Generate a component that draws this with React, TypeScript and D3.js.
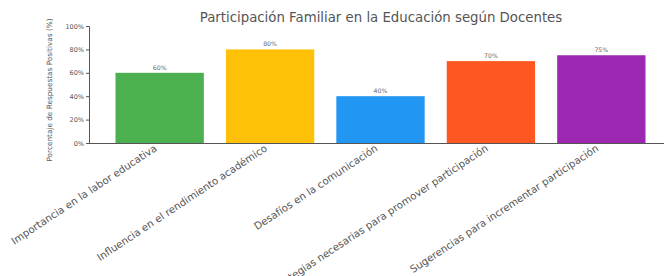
import * as d3 from "d3";
import React, { useEffect, useRef } from "react";

const categories = [
  "Importancia en la labor educativa",
  "Influencia en el rendimiento académico",
  "Desafíos en la comunicación",
  "Estrategias necesarias para promover participación",
  "Sugerencias para incrementar participación",
];
const values = [60, 80, 40, 70, 75];
const barLabels = ["60%", "80%", "40%", "70%", "75%"];
const colors = ["#4CAF50", "#FFC107", "#2196F3", "#FF5722", "#9C27B0"];
const yTicks = [0, 20, 40, 60, 80, 100];

function App() {
  const width = 664;
  const height = 276;
  const marginLeft = 89;
  const marginTop = 26;
  const plotBottom = 143;
  const ref = useRef<SVGSVGElement>(null);

  useEffect(() => {
    const svg = d3.select(ref.current);
    svg.selectAll("*").remove();
    const font = "DejaVu Sans, sans-serif";

    const x = d3
      .scaleBand()
      .domain(categories)
      .range([marginLeft, marginLeft + 583])
      .paddingInner(0.2)
      .paddingOuter(0.24);

    const y = d3.scaleLinear().domain([0, 100]).range([plotBottom, marginTop]);

    svg
      .append("text")
      .attr("x", 381)
      .attr("y", 22)
      .attr("text-anchor", "middle")
      .attr("font-family", font)
      .attr("font-size", 13.3)
      .attr("fill", "#555")
      .text("Participación Familiar en la Educación según Docentes");

    svg
      .append("g")
      .selectAll("rect")
      .data(values)
      .join("rect")
      .attr("x", (d, i) => x(categories[i])!)
      .attr("y", (d) => y(d))
      .attr("width", x.bandwidth())
      .attr("height", (d) => y(0) - y(d))
      .attr("fill", (d, i) => colors[i]);

    svg
      .append("g")
      .selectAll("text")
      .data(values)
      .join("text")
      .attr("x", (d, i) => x(categories[i])! + x.bandwidth() / 2)
      .attr("y", (d) => y(d) - 3)
      .attr("text-anchor", "middle")
      .attr("font-family", font)
      .attr("font-size", 6.2)
      .attr("fill", "#666")
      .text((d, i) => barLabels[i]);

    const yAxis = svg
      .append("g")
      .attr("transform", `translate(${marginLeft},0)`)
      .call(
        d3
          .axisLeft(y)
          .tickValues(yTicks)
          .tickFormat((d) => `${d}%`)
          .tickSizeOuter(0)
          .tickSize(3)
          .tickPadding(2)
      );
    yAxis.select(".domain").attr("stroke", "#555");
    yAxis.selectAll("line").attr("stroke", "#555");
    yAxis
      .selectAll("text")
      .attr("font-family", font)
      .attr("font-size", 6.5)
      .attr("fill", "#555");

    svg
      .append("line")
      .attr("x1", marginLeft)
      .attr("x2", marginLeft + 583)
      .attr("y1", plotBottom + 0.5)
      .attr("y2", plotBottom + 0.5)
      .attr("stroke", "#555");

    svg
      .append("g")
      .selectAll("text")
      .data(categories)
      .join("text")
      .attr(
        "transform",
        (d) => `translate(${x(d)! + x.bandwidth() / 2 - 2},${plotBottom + 7}) rotate(-33.5)`
      )
      .attr("text-anchor", "end")
      .attr("font-family", font)
      .attr("font-size", 10.2)
      .attr("fill", "#555")
      .text((d) => d);

    svg
      .append("text")
      .attr("transform", `translate(52,90) rotate(-90)`)
      .attr("text-anchor", "middle")
      .attr("font-family", font)
      .attr("font-size", 7.3)
      .attr("fill", "#555")
      .text("Porcentaje de Respuestas Positivas (%)");
  }, []);

  return (
    <svg
      ref={ref}
      width={width}
      height={height}
      style={{ position: "absolute", left: 0, top: 0, background: "#fff" }}
    />
  );
}

export default App;
